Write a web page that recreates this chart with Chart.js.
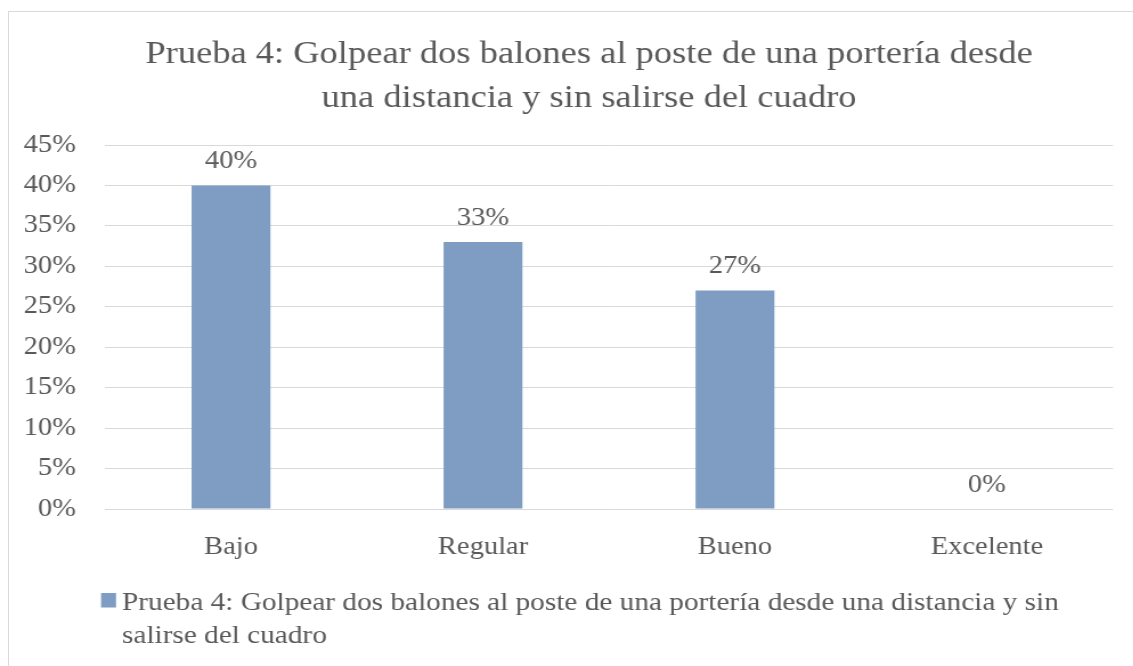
<!DOCTYPE html>
<html>
<head>
<meta charset="utf-8">
<script src="https://cdn.jsdelivr.net/npm/chart.js@4/dist/chart.umd.min.js"></script>
<style>
  html, body { margin: 0; padding: 0; background: #ffffff; overflow: hidden; }
  #frame { position: absolute; left: 8px; top: 11px; width: 1300px; height: 800px;
           border-top: 1px solid #d9d9d9; border-left: 1px solid #d9d9d9; }
  /* the reference's lettering is horizontally wide: draw on a narrower canvas and stretch it */
  #wrap { position: absolute; left: 0; top: 0; width: 994px; height: 666px;
          transform: scaleX(1.14); transform-origin: 0 0; }
</style>
</head>
<body>
<div id="frame"></div>
<div id="wrap"><canvas id="c"></canvas></div>
<script>
const titleLines = ['Prueba 4: Golpear dos balones al poste de una portería desde', 'una distancia y sin salirse del cuadro'];
const categories = ['Bajo', 'Regular', 'Bueno', 'Excelente'];
const seriesLabel = 'Prueba 4: Golpear dos balones al poste de una portería desde una distancia y sin salirse del cuadro';
const seriesValues = [40, 33, 27, 0];
const yTickValues = [0, 5, 10, 15, 20, 25, 30, 35, 40, 45];

const FONT = '"Liberation Serif", "Times New Roman", serif';
const TEXT = '#595959';
const BAR = '#7f9dc3';

const titleDraw = {
  id: 'titleDraw',
  afterDraw(chart) {
    const ctx = chart.ctx;
    ctx.save();
    ctx.font = '32px ' + FONT;
    ctx.fillStyle = TEXT;
    ctx.textAlign = 'center';
    ctx.textBaseline = 'alphabetic';
    const cx = 516.7;
    titleLines.forEach((t, i) => ctx.fillText(t, cx, 63 + i * 44));
    ctx.restore();
  }
};

const valueLabels = {
  id: 'valueLabels',
  afterDatasetsDraw(chart) {
    const ctx = chart.ctx;
    const meta = chart.getDatasetMeta(0);
    const ds = chart.data.datasets[0];
    ctx.save();
    ctx.font = '25px ' + FONT;
    ctx.fillStyle = TEXT;
    ctx.textAlign = 'center';
    ctx.textBaseline = 'alphabetic';
    meta.data.forEach((bar, i) => {
      ctx.fillText(ds.data[i] + '%', bar.x, bar.y - 17.5);
    });
    ctx.restore();
  }
};

const wrapLegend = {
  id: 'wrapLegend',
  afterDraw(chart) {
    const ctx = chart.ctx;
    const ds = chart.data.datasets[0];
    const boxX = 88.6, boxY = 593, boxW = 13.2, boxH = 14.5;
    const textX = 107, baseline1 = 610, lineGap = 33;
    ctx.save();
    ctx.fillStyle = ds.backgroundColor;
    ctx.fillRect(boxX, boxY, boxW, boxH);
    ctx.font = '25.7px ' + FONT;
    ctx.fillStyle = TEXT;
    ctx.textAlign = 'left';
    ctx.textBaseline = 'alphabetic';
    const maxW = chart.chartArea.right - textX;
    const words = ds.label.split(' ');
    const lines = [];
    let cur = '';
    words.forEach(w => {
      const test = cur ? cur + ' ' + w : w;
      if (ctx.measureText(test).width > maxW && cur) { lines.push(cur); cur = w; }
      else cur = test;
    });
    if (cur) lines.push(cur);
    lines.forEach((ln, i) => ctx.fillText(ln, textX, baseline1 + i * lineGap));
    ctx.restore();
  }
};

new Chart(document.getElementById('c'), {
  type: 'bar',
  data: {
    labels: categories,
    datasets: [{
      label: seriesLabel,
      data: seriesValues,
      backgroundColor: BAR,
      borderWidth: 0,
      categoryPercentage: 1,
      barPercentage: 0.313
    }]
  },
  options: {
    responsive: true,
    maintainAspectRatio: false,
    animation: false,
    events: [],
    layout: { padding: { left: 20, right: 17.7, top: 145, bottom: 89 } },
    plugins: {
      legend: { display: false },
      tooltip: { enabled: false },
      title: { display: false }
    },
    scales: {
      x: {
        grid: { display: false },
        border: { display: false },
        ticks: { color: TEXT, font: { family: FONT, size: 25, lineHeight: 1.2 }, padding: 15, maxRotation: 0 }
      },
      y: {
        min: 0, max: 45,
        afterFit(axis) { axis.width = 72.1; },
        afterBuildTicks(axis) { axis.ticks = yTickValues.map(v => ({ value: v })); },
        grid: { color: '#d9d9d9', lineWidth: 1, drawTicks: false },
        border: { display: false },
        ticks: {
          color: TEXT,
          font: { family: FONT, size: 25 },
          padding: 25.4,
          callback: v => v + '%'
        }
      }
    }
  },
  plugins: [titleDraw, valueLabels, wrapLegend]
});
</script>
</body>
</html>
